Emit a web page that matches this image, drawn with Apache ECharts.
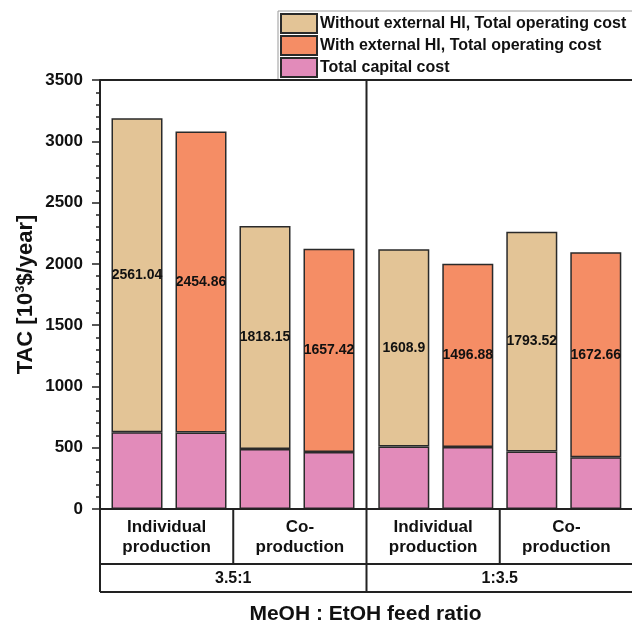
<!DOCTYPE html>
<html>
<head>
<meta charset="utf-8">
<script src="https://cdn.jsdelivr.net/npm/echarts@6/dist/echarts.min.js"></script>
<style>
  html, body { margin: 0; padding: 0; background: #fff; }
  #chart { width: 632px; height: 626px; }
</style>
</head>
<body>
<div id="chart"></div>
<script>
// Feed ratios (outer row) and production modes (inner row)
const ratioLabels = ['3.5:1', '1:3.5'];
const modeLabels = ['Individual\nproduction', 'Co-\nproduction'];
const barCategories = ['Ind. w/o HI', 'Ind. with HI', 'Co. w/o HI', 'Co. with HI'];

// Total capital cost [10^3 $/year]
const capitalA = [626, 624, 490, 466];
const capitalB = [510, 505, 469, 422];
// Total operating cost without / with external heat integration
const opNoHIA = [2561.04, '-', 1818.15, '-'];
const opHIA = ['-', 2454.86, '-', 1657.42];
const opNoHIB = [1608.9, '-', 1793.52, '-'];
const opHIB = ['-', 1496.88, '-', 1672.66];

const yMin = 0, yMax = 3500, yStep = 500;

const NAME_CAP = 'Total capital cost';
const NAME_NOHI = 'Without external HI, Total operating cost';
const NAME_HI = 'With external HI, Total operating cost';

const C_CAP = '#E28BBA';
const C_NOHI = '#E3C496';
const C_HI = '#F58D65';
const EDGE = '#2a2a2a';
const FONT = "'Liberation Sans', Arial, sans-serif";

// frame geometry
const L = 100, R = 633, T = 80, B = 509, ROW1 = 564, ROW2 = 592;
const HALF = (R - L) / 2;
const MID = L + HALF;

const chart = echarts.init(document.getElementById('chart'), null, { renderer: 'canvas' });

function barSeries(name, data, color, axisIdx, withLabel) {
  return {
    type: 'bar', name: name, data: data,
    xAxisIndex: axisIdx, yAxisIndex: axisIdx,
    stack: 'tac' + axisIdx,
    barWidth: 51,
    itemStyle: { color: color, borderColor: EDGE, borderWidth: 1.5 },
    label: withLabel ? {
      show: true, position: 'inside', color: '#111',
      fontFamily: FONT, fontWeight: 'bold', fontSize: 14,
      formatter: p => String(p.value)
    } : { show: false },
    emphasis: { disabled: true },
    animation: false
  };
}

const lineStyle = { stroke: '#222', lineWidth: 2 };
function seg(x1, y1, x2, y2) {
  return { type: 'line', shape: { x1, y1, x2, y2 }, style: lineStyle, silent: true, z: 10 };
}
function txt(text, x, y, size) {
  return {
    type: 'text', silent: true, z: 10,
    style: {
      text: text, x: x, y: y, align: 'center', verticalAlign: 'middle',
      font: 'bold ' + size + 'px ' + FONT, fill: '#111', lineHeight: Math.round(size * 1.2)
    }
  };
}

const graphics = [
  seg(L, T, R, T),
  seg(L, T, L, ROW2),
  seg(R, T, R, ROW2),
  seg(L, B, R, B),
  seg(L, ROW1, R, ROW1),
  seg(L, ROW2, R, ROW2),
  seg(MID, T, MID, ROW2)
];
ratioLabels.forEach((r, i) => {
  const x0 = L + i * HALF;
  graphics.push(txt(r, x0 + HALF / 2, (ROW1 + ROW2) / 2 + 1, 16));
  graphics.push(seg(x0 + HALF / 2, B, x0 + HALF / 2, ROW1));
  modeLabels.forEach((m, j) => {
    graphics.push(txt(m, x0 + HALF / 4 + j * HALF / 2, (B + ROW1) / 2 + 1, 17));
  });
});
graphics.push(txt('MeOH : EtOH feed ratio', MID - 1, 614, 21));

const yCommon = {
  type: 'value', min: yMin, max: yMax, interval: yStep
};

chart.setOption({
  backgroundColor: '#fff',
  animation: false,
  textStyle: { fontFamily: FONT },
  legend: {
    orient: 'vertical', left: 278, top: 11,
    itemWidth: 36, itemHeight: 19, itemGap: 1,
    padding: [2, 80, 2, 2],
    borderColor: '#9a9a9a', borderWidth: 1,
    icon: 'rect',
    selectedMode: false,
    data: [NAME_NOHI, NAME_HI, NAME_CAP],
    textStyle: { fontFamily: FONT, fontWeight: 'bold', fontSize: 16, color: '#111', padding: [0, 0, 0, -2] }
  },
  grid: [
    { left: L + 5, width: 256, top: T, height: B - T },
    { left: MID + 5.3, width: 256, top: T, height: B - T }
  ],
  xAxis: [0, 1].map(i => ({
    type: 'category', gridIndex: i, data: barCategories,
    axisLine: { show: false }, axisTick: { show: false }, axisLabel: { show: false }
  })),
  yAxis: [
    Object.assign({}, yCommon, {
      gridIndex: 0, offset: 5,
      name: 'TAC [10{sup|3}$/year]', nameLocation: 'middle', nameGap: 63,
      nameTextStyle: {
        fontFamily: FONT, fontWeight: 'bold', fontSize: 22, color: '#111',
        rich: { sup: { fontFamily: FONT, fontWeight: 'bold', fontSize: 13, color: '#111', verticalAlign: 'top', padding: [0, 0, 10, 0] } }
      },
      axisLine: { show: true, lineStyle: { color: '#222', width: 2 } },
      axisTick: { show: true, inside: false, length: 8, lineStyle: { color: '#222', width: 1.5 } },
      minorTick: { show: true, splitNumber: 5, length: 4, lineStyle: { color: '#222', width: 1.5 } },
      axisLabel: {
        margin: 17, fontFamily: FONT, fontWeight: 'bold', fontSize: 17, color: '#111',
        formatter: v => String(v)
      },
      splitLine: { show: false }
    }),
    Object.assign({}, yCommon, {
      gridIndex: 1, show: false, splitLine: { show: false }
    })
  ],
  series: [
    barSeries(NAME_CAP, capitalA, C_CAP, 0, false),
    barSeries(NAME_NOHI, opNoHIA, C_NOHI, 0, true),
    barSeries(NAME_HI, opHIA, C_HI, 0, true),
    barSeries(NAME_CAP, capitalB, C_CAP, 1, false),
    barSeries(NAME_NOHI, opNoHIB, C_NOHI, 1, true),
    barSeries(NAME_HI, opHIB, C_HI, 1, true)
  ],
  graphic: graphics
});
</script>
</body>
</html>
